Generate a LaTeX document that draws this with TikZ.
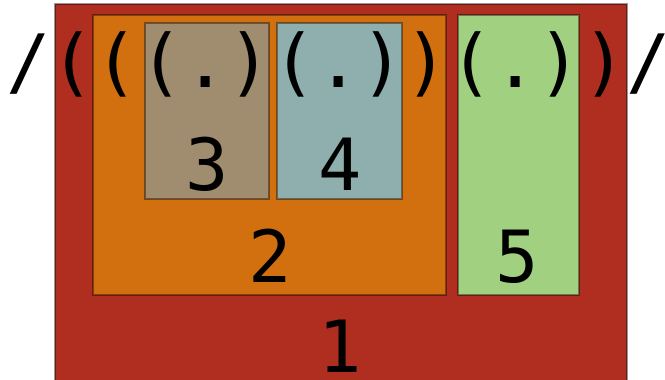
\documentclass[tikz,border=0pt]{standalone}
\usepackage{fontspec}
\newfontfamily\monofont{DejaVu Sans Mono}
\definecolor{cred}{RGB}{176,46,32}
\definecolor{corange}{RGB}{210,112,16}
\definecolor{cbrown}{RGB}{160,140,110}
\definecolor{cblue}{RGB}{143,175,175}
\definecolor{cgreen}{RGB}{160,208,128}
\tikzset{
  region/.style={draw=black, draw opacity=0.4, line width=1.2pt},
  label/.style={inner sep=0pt, anchor=base, font=\monofont\fontsize{72}{80}\selectfont},
}
\begin{document}
\begin{tikzpicture}[x=1pt,y=-1pt]
\useasboundingbox (0,0) rectangle (665,380);
\clip (0,0) rectangle (665,380);
\fill[white] (0,0) rectangle (665,380);
\draw[region, fill=cred] (55,4) rectangle (627,384);
\draw[region, fill=corange] (93,15) rectangle (446,295);
\draw[region, fill=cbrown] (145,23) rectangle (269,199);
\draw[region, fill=cblue] (277,23) rectangle (402,199);
\draw[region, fill=cgreen] (458,15) rectangle (579,295);
\node[label, anchor=base west, font=\monofont\fontsize{73.6}{80}\selectfont] (seq) at (6,87) {\makebox[650pt][l]{/(((.)(.))(.))/}};
\node[label] (n3) at (207,190) {3};
\node[label] (n4) at (340,190) {4};
\node[label] (n2) at (270,282) {2};
\node[label] (n5) at (517,282) {5};
\node[label] (n1) at (340,372) {1};
\end{tikzpicture}
\end{document}
